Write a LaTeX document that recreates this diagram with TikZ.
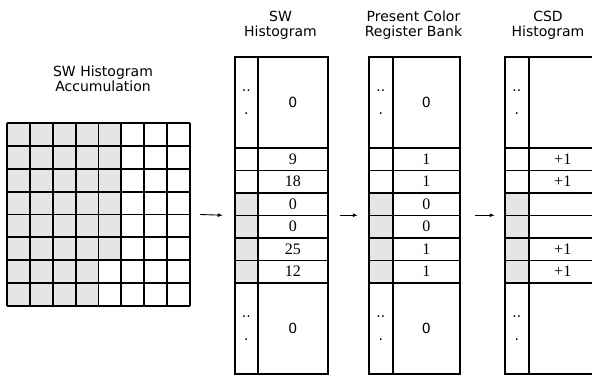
\documentclass[tikz,border=0pt]{standalone}
\usepackage{fontspec}
\setsansfont{DejaVu Sans}
\newfontfamily\numfont{Liberation Serif}
\usetikzlibrary{arrows.meta, positioning, fit}

\begin{document}
\begin{tikzpicture}[
      x=1pt, y=-1pt,
      font=\sffamily\fontsize{14}{15}\selectfont,
      title/.style={align=center, font=\sffamily\fontsize{14}{15}\selectfont},
      bigcell/.style={draw, line width=1.5pt, anchor=north west, minimum height=91pt,
                      inner sep=0pt, align=center},
      rowcell/.style={draw, line width=1.5pt, anchor=north west, minimum height=22.5pt,
                      inner sep=0pt, font=\numfont\fontsize{16}{16}\selectfont},
      shade/.style={fill=black!10},
      gridline/.style={line width=1.9pt},
      dots/.style={font=\sffamily\fontsize{14}{20}\selectfont},
      a/.style={-{Latex[length=5pt,width=4pt]}, line width=0.9pt},
    ]
    \useasboundingbox (0,0) rectangle (592,375);

    % ---- accumulation window (8x8) ----
    \fill[shade] (7,123) rectangle (121.4,260.25);
    \fill[shade] (7,260.25) rectangle (98.5,306);
    \draw[gridline, xshift=7pt, yshift=-123pt, step=22.875pt] (0,0) grid (183,183);
    \node[minimum size=183pt, inner sep=0pt] (grid) at (98.5,214.5) {};
    \node[title] (acctitle) at (103,78.5) {SW Histogram\\Accumulation};

    % ---- SW histogram (x = 234 / 257 / 327) ----
    \node[title] (swtitle) at (280.5,25.5) {SW\\Histogram};
    \node[bigcell, dots, minimum width=23pt] (sw-tl) at (234,56) {..\\[3pt].};
    \node[bigcell, minimum width=70pt] (sw-tr) at (257,56) {0};
    \foreach \v [count=\i] in {9,18,0,0,25,12} {
      \ifnum\i>2
        \node[rowcell, shade, minimum width=23pt] (sw-l\i) at (234,124.5+22.5*\i) {};
      \else
        \node[rowcell, minimum width=23pt] (sw-l\i) at (234,124.5+22.5*\i) {};
      \fi
      \node[rowcell, minimum width=70pt] (sw-r\i) at (257,124.5+22.5*\i) {\v};
    }
    \node[bigcell, dots, minimum width=23pt] (sw-bl) at (234,282) {..\\[3pt].};
    \node[bigcell, minimum width=70pt] (sw-br) at (257,282) {0};
    \node[fit=(sw-tl)(sw-br), inner sep=0pt] (swcol) {};

    % ---- present color register bank (x = 368 / 392 / 459) ----
    \node[title] (pcrtitle) at (413.5,25.5) {Present Color\\Register Bank};
    \node[bigcell, dots, minimum width=24pt] (pcr-tl) at (368,56) {..\\[3pt].};
    \node[bigcell, minimum width=67pt] (pcr-tr) at (392,56) {0};
    \foreach \v [count=\i] in {1,1,0,0,1,1} {
      \ifnum\i>2
        \node[rowcell, shade, minimum width=24pt] (pcr-l\i) at (368,124.5+22.5*\i) {};
      \else
        \node[rowcell, minimum width=24pt] (pcr-l\i) at (368,124.5+22.5*\i) {};
      \fi
      \node[rowcell, minimum width=67pt] (pcr-r\i) at (392,124.5+22.5*\i) {\v};
    }
    \node[bigcell, dots, minimum width=24pt] (pcr-bl) at (368,282) {..\\[3pt].};
    \node[bigcell, minimum width=67pt] (pcr-br) at (392,282) {0};
    \node[fit=(pcr-tl)(pcr-br), inner sep=0pt] (pcrcol) {};

    % ---- CSD histogram (x = 504 / 528, cut at the right edge) ----
    \node[title] (csdtitle) at (548,25.5) {CSD\\Histogram};
    \node[bigcell, dots, minimum width=24pt] (csd-tl) at (504,56) {..\\[3pt].};
    \node[bigcell, minimum width=68pt] (csd-tr) at (528,56) {};
    \foreach \v [count=\i] in {+1,+1,{},{},+1,+1} {
      \ifnum\i>2
        \node[rowcell, shade, minimum width=24pt] (csd-l\i) at (504,124.5+22.5*\i) {};
      \else
        \node[rowcell, minimum width=24pt] (csd-l\i) at (504,124.5+22.5*\i) {};
      \fi
      \node[rowcell, minimum width=68pt] (csd-r\i) at (528,124.5+22.5*\i) {\v};
    }
    \node[bigcell, dots, minimum width=24pt] (csd-bl) at (504,282) {..\\[3pt].};
    \node[bigcell, minimum width=68pt] (csd-br) at (528,282) {};
    \node[fit=(csd-tl)(csd-br), inner sep=0pt] (csdcol) {};

    % ---- arrows ----
    \draw[a] ([xshift=10pt]grid.east) -- ([xshift=-11pt]swcol.west);
    \draw[a] ([xshift=11pt]swcol.east) -- ([xshift=-10pt]pcrcol.west);
    \draw[a] ([xshift=14pt]pcrcol.east) -- ([xshift=-9pt]csdcol.west);
  \end{tikzpicture}
\end{document}
